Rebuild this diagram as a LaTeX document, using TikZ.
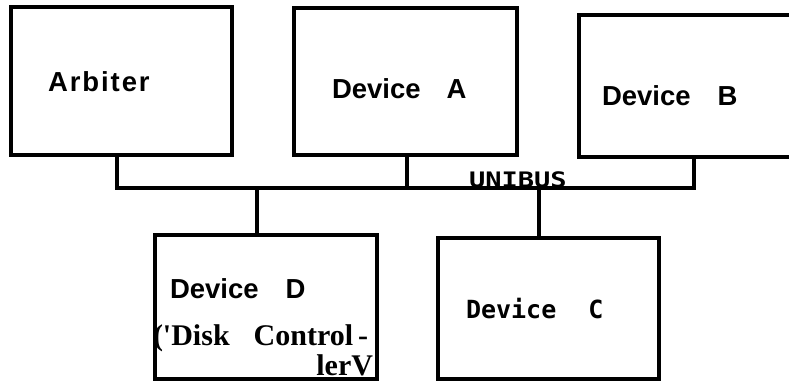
\documentclass[tikz,border=0pt]{standalone}
\usepackage{fontspec}
\setmainfont{Liberation Serif}
\setsansfont{Liberation Sans}
\setmonofont{DejaVu Sans Mono}
\newfontfamily\arbfont[LetterSpace=7]{Liberation Sans}
\begin{document}
\begin{tikzpicture}[x=1pt,y=-1pt,
  box/.style={draw,line width=3.3pt,inner sep=0pt,outer sep=0pt},
  ghost/.style={inner sep=0pt,outer sep=0pt},
  bus/.style={line width=3.3pt,line cap=rect},
  lbl/.style={inner sep=0pt,outer sep=0pt,anchor=base west,font=\fontsize{27.5}{30}\selectfont\sffamily\bfseries},
  serlbl/.style={inner sep=0pt,outer sep=0pt,font=\fontsize{30}{32}\selectfont\rmfamily\bfseries},
  monolbl/.style={inner sep=0pt,outer sep=0pt,anchor=base west,font=\fontsize{25}{28}\selectfont\ttfamily\bfseries}]
\useasboundingbox (0,0) rectangle (789,381);
% boxes
\node[box,minimum width=221pt,minimum height=148pt] (arb) at (121.5,81) {};
\node[box,minimum width=223pt,minimum height=147pt] (devA) at (405.5,81.5) {};
\node[ghost,minimum width=210pt,minimum height=142pt] (devB) at (684,86) {};
\draw[line width=3.3pt] (devB.north east) -- (devB.north west) -- (devB.south west) -- (devB.south east);
\node[box,minimum width=222pt,minimum height=144pt] (devD) at (266,307) {};
\node[box,minimum width=221pt,minimum height=141pt] (devC) at (548.5,308.5) {};
% bus junctions
\coordinate (jArb) at (117,188);
\coordinate (jA) at (407,188);
\coordinate (jB) at (694,188);
\coordinate (jD) at (257,188);
\coordinate (jC) at (539,188);
\draw[bus] (arb.south -| jArb) -- (jArb) -- (jB) -- (devB.south -| jB);
\draw[bus] (devA.south -| jA) -- (jA);
\draw[bus] (jD) -- (devD.north -| jD);
\draw[bus] (jC) -- (devC.north -| jC);
% labels
\node[lbl,font=\fontsize{27.5}{30}\selectfont\arbfont\bfseries] (tArb) at (48,91) {Arbiter};
\node[lbl] (tA) at (332,98) {Device\hspace{26pt}A};
\node[lbl] (tB) at (602,105) {Device\hspace{27pt}B};
\node[lbl] (tD) at (170,298) {Device\hspace{27pt}D};
\node[serlbl,anchor=base west] (tDisk) at (153,345.5) {(\textquotesingle Disk\hspace{24pt}Control\hspace{5pt}-};
\node[serlbl,anchor=base east] (tLer) at (373,375) {lerV};
\node[monolbl] (tC) at (466,318) {Device\hspace{32pt}C};
\node[monolbl,font=\fontsize{26}{28}\selectfont\ttfamily\bfseries] (tBus) at (469,187) {\scalebox{1.04}[0.82]{UNIBUS}};
\end{tikzpicture}
\end{document}
